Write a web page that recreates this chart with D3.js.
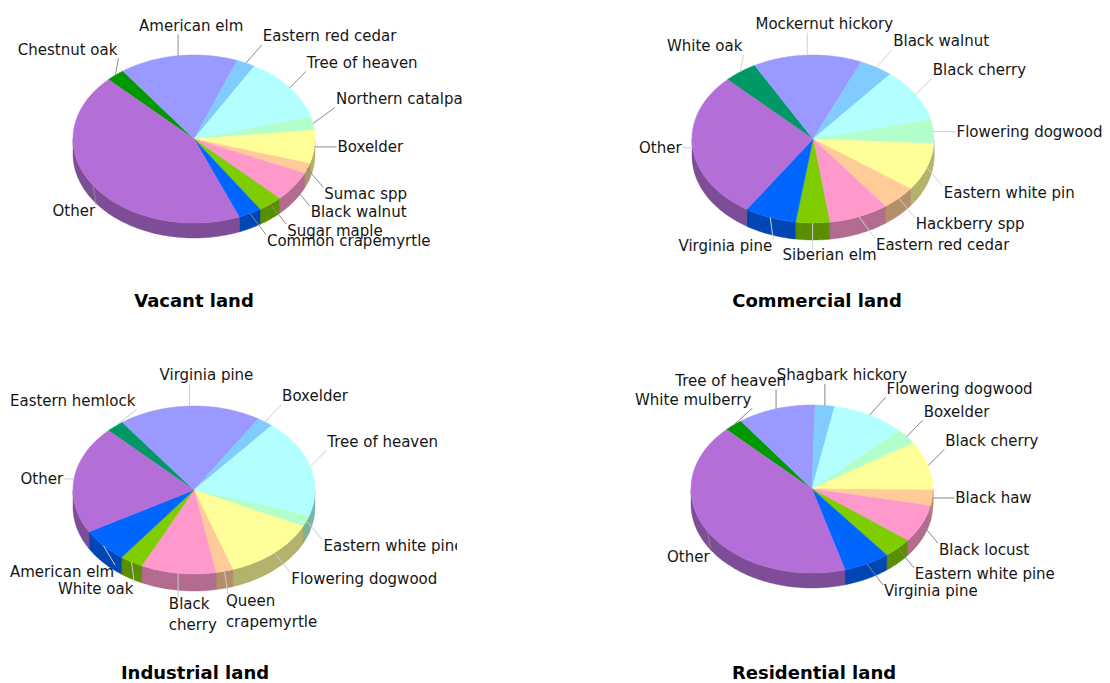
<!DOCTYPE html>
<html>
<head>
<meta charset="utf-8">
<script src="https://cdn.jsdelivr.net/npm/d3@7"></script>
<style>
  body { margin: 0; background: #fff; }
  svg { display: block; }
</style>
</head>
<body>
<svg id="chart" width="1110" height="683"></svg>
<script>
// Share of street trees (%) by species for each land-use type,
// listed clockwise starting from the upper-left of each pie.
const vacantSpecies = ["Chestnut oak", "American elm", "Eastern red cedar", "Tree of heaven", "Northern catalpa", "Boxelder", "Sumac spp", "Black walnut", "Sugar maple", "Common crapemyrtle", "Other"];
const vacantShares = [2.5, 15.8, 2.5, 12.5, 2.5, 6.4, 2.0, 5.8, 3.3, 3.1, 43.6];

const commercialSpecies = ["White oak", "Mockernut hickory", "Black walnut", "Black cherry", "Flowering dogwood", "Eastern white pin", "Hackberry spp", "Eastern red cedar", "Siberian elm", "Virginia pine", "Other"];
const commercialShares = [4.5, 14.5, 4.5, 10.3, 4.6, 9.2, 4.7, 8.0, 4.5, 6.9, 28.3];

const industrialSpecies = ["Eastern hemlock", "Virginia pine", "Boxelder", "Tree of heaven", "Eastern white pine", "Flowering dogwood", "Queen\ncrapemyrtle", "Black\ncherry", "White oak", "American elm", "Other"];
const industrialShares = [2.4, 19.0, 2.2, 18.8, 2.2, 12.7, 2.3, 10.0, 3.1, 6.5, 20.8];

const residentialSpecies = ["White mulberry", "Tree of heaven", "Shagbark hickory", "Flowering dogwood", "Boxelder", "Black cherry", "Black haw", "Black locust", "Eastern white pine", "Virginia pine", "Other"];
const residentialShares = [2.5, 10.4, 2.6, 9.8, 3.0, 9.4, 3.0, 7.3, 3.9, 6.2, 41.9];

const titles = ["Vacant land", "Commercial land", "Industrial land", "Residential land"];

// Slice fill order (first colour is set per panel)
const basePalette = ["#9999ff", "#80ccff", "#b3ffff", "#b3ffcc", "#ffff99", "#ffcc99", "#ff99cc", "#7fcc00", "#0066ff", "#b46ed7"];

const panels = [
  { title: titles[0], species: vacantSpecies, shares: vacantShares, cx: 194, cy: 139, depth: 15,
    first: "#009900", leader: "#8c8c8c", minX: 10, maxX: 1110, titleX: 194, titleY: 307 },
  { title: titles[1], species: commercialSpecies, shares: commercialShares, cx: 813, cy: 139, depth: 17,
    first: "#009966", leader: "#d0d0d0", minX: 635, maxX: 1110, titleX: 817, titleY: 307 },
  { title: titles[2], species: industrialSpecies, shares: industrialShares, cx: 194, cy: 490, depth: 17,
    first: "#009966", leader: "#cccccc", minX: 10, maxX: 457, titleX: 195, titleY: 679 },
  { title: titles[3], species: residentialSpecies, shares: residentialShares, cx: 812, cy: 489, depth: 15,
    first: "#009900", leader: "#858585", minX: 635, maxX: 1110, titleX: 814, titleY: 679 }
];

const RX = 121, RY = 84;
const FONT = "DejaVu Sans, Verdana, sans-serif";
const FS = 15, LINE = 21;

const svg = d3.select("#chart");
const defs = svg.append("defs");

const pie = d3.pie().sort(null).value(d => d.value)
  .startAngle(-Math.PI / 4).endAngle(2 * Math.PI - Math.PI / 4);
const line = d3.line();

panels.forEach((p, pi) => {
  const x = d3.scaleLinear().domain([-1, 1]).range([p.cx - RX, p.cx + RX]);
  const y = d3.scaleLinear().domain([-1, 1]).range([p.cy + RY, p.cy - RY]);
  const color = d3.scaleOrdinal().domain(p.species).range([p.first, ...basePalette]);

  const clipId = "clip" + pi;
  defs.append("clipPath").attr("id", clipId)
    .append("rect").attr("x", 0).attr("y", 0).attr("width", p.maxX).attr("height", 683);

  const g = svg.append("g").attr("clip-path", `url(#${clipId})`);
  const data = p.species.map((name, i) => ({ name, value: p.shares[i] }));
  const arcs = pie(data);

  const rim = (a0, a1, dy) => {
    const n = Math.max(2, Math.ceil((a1 - a0) / (Math.PI / 180)));
    return d3.range(n + 1).map(i => {
      const a = a0 + (a1 - a0) * i / n;
      return [x(Math.sin(a)), y(Math.cos(a)) + dy];
    });
  };

  // side walls on the front half of the disc
  const f0 = Math.PI / 2, f1 = 3 * Math.PI / 2;
  arcs.forEach(d => {
    const lo = Math.max(d.startAngle, f0), hi = Math.min(d.endAngle, f1);
    if (lo >= hi) return;
    const pts = rim(lo, hi, 0).concat(rim(lo, hi, p.depth).reverse());
    const c = d3.color(color(d.data.name)).darker(1.0);
    g.append("path")
      .attr("d", line(pts) + "Z")
      .attr("fill", c)
      .attr("stroke", d3.color(c).darker(0.4))
      .attr("stroke-width", 0.6)
      .attr("stroke-opacity", 0.6);
  });

  // top face
  arcs.forEach(d => {
    const pts = [[p.cx, p.cy]].concat(rim(d.startAngle, d.endAngle, 0));
    g.append("path")
      .attr("d", line(pts) + "Z")
      .attr("fill", color(d.data.name))
      .attr("stroke", color(d.data.name))
      .attr("stroke-width", 0.5);
  });

  // labels with leader lines
  arcs.forEach(d => {
    const m = (d.startAngle + d.endAngle) / 2;
    const s = Math.sin(m), c = Math.cos(m);
    const px = x(s), py = y(c);
    const lines = d.data.name.split("\n");

    const text = g.append("text")
      .attr("font-family", FONT)
      .attr("font-size", FS)
      .attr("fill", "#161616");
    const spans = lines.map(l => text.append("tspan").text(l));
    const w = d3.max(spans, sp => sp.node().getComputedTextLength());

    const t = Math.sign(s) * Math.min(1, Math.max(0, (Math.abs(s) - 0.12) / 0.2));
    let A = t >= 0 ? 17 : 17 + 15 * t;
    if (Math.abs(s) > 0.97) A += s > 0 ? 6 : -13;
    let left = px + A + t * w / 2 - w / 2;
    left = Math.max(p.minX, left);
    const right = left + w;

    const h = 16 + (lines.length - 1) * LINE;
    const off = 25 + 7 * Math.pow(1 - Math.abs(s), 2);
    const kind = Math.abs(c) < 0.15 ? "side" : (c > 0 ? "up" : "down");
    let top;
    if (kind === "side") top = py - 8;
    else if (kind === "up") top = py - off + 8 - h;
    else top = py + off - 8;

    spans.forEach((sp, i) => sp.attr("x", left).attr("y", top + 13.5 + i * LINE));

    let ex, ey;
    if (kind === "side") {
      ex = t > 0 ? left - 1 : right + 1; ey = top + 8;
    } else {
      if (Math.abs(t) === 1) ex = t > 0 ? left - 1 : right + 1;
      else ex = Math.min(right - 2, Math.max(left + 2, px));
      ey = kind === "up" ? top + h + 1 : top + 2;
    }
    g.insert("line", "text")
      .attr("x1", px).attr("y1", py)
      .attr("x2", ex).attr("y2", ey)
      .attr("stroke", p.leader)
      .attr("stroke-width", 1);
  });

  svg.append("text")
    .attr("x", p.titleX).attr("y", p.titleY)
    .attr("text-anchor", "middle")
    .attr("font-family", FONT)
    .attr("font-weight", "bold")
    .attr("font-size", 18)
    .attr("fill", "#000")
    .text(p.title);
});
</script>
</body>
</html>
